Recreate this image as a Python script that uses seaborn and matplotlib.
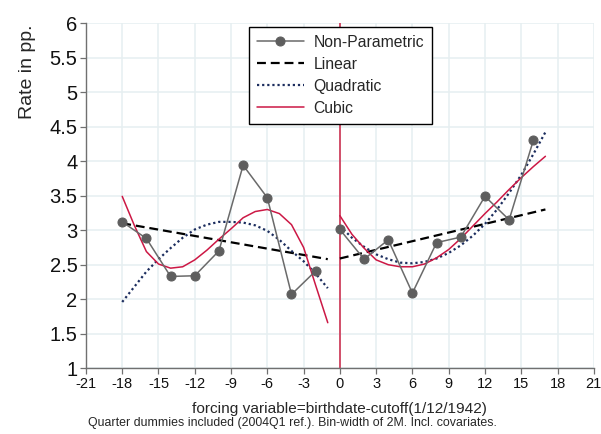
import numpy as np
import pandas as pd
import matplotlib
matplotlib.use("Agg")
import matplotlib.pyplot as plt
import seaborn as sns

# ---- data ----
np_x_left = [-18, -16, -14, -12, -10, -8, -6, -4, -2]
np_y_left = [3.12, 2.88, 2.33, 2.34, 2.70, 3.94, 3.47, 2.07, 2.41]
np_x_right = [0, 2, 4, 6, 8, 10, 12, 14, 16]
np_y_right = [3.01, 2.58, 2.86, 2.09, 2.82, 2.90, 3.49, 3.15, 4.30]

lin_x_left = [-18, -1]
lin_y_left = [3.10, 2.58]
lin_x_right = [0, 17]
lin_y_right = [2.59, 3.30]

fit_x_left = [-18, -17, -16, -15, -14, -13, -12, -11, -10, -9, -8, -7, -6, -5, -4, -3, -2, -1]
quad_y_left = [1.96, 2.18, 2.40, 2.58, 2.74, 2.89, 3.01, 3.08, 3.12, 3.12, 3.11, 3.07, 2.99, 2.86, 2.70, 2.55, 2.37, 2.16]
cub_y_left = [3.49, 3.07, 2.69, 2.51, 2.45, 2.47, 2.57, 2.71, 2.87, 3.02, 3.18, 3.27, 3.30, 3.24, 3.08, 2.75, 2.20, 1.66]

fit_x_right = [0, 1, 2, 3, 4, 5, 6, 7, 8, 9, 10, 11, 12, 13, 14, 15, 16, 17]
quad_y_right = [3.06, 2.89, 2.76, 2.65, 2.58, 2.53, 2.52, 2.54, 2.59, 2.67, 2.78, 2.92, 3.09, 3.30, 3.54, 3.80, 4.10, 4.42]
cub_y_right = [3.21, 2.94, 2.74, 2.57, 2.50, 2.47, 2.47, 2.51, 2.60, 2.72, 2.88, 3.06, 3.24, 3.41, 3.59, 3.76, 3.92, 4.07]

x_ticks = list(range(-21, 22, 3))
y_ticks = [1, 1.5, 2, 2.5, 3, 3.5, 4, 4.5, 5, 5.5, 6]
y_tick_labels = ["1", "1.5", "2", "2.5", "3", "3.5", "4", "4.5", "5", "5.5", "6"]

x_label = "forcing variable=birthdate-cutoff(1/12/1942)"
y_label = "Rate in pp."
note = "Quarter dummies included (2004Q1 ref.). Bin-width of 2M. Incl. covariates."
series_names = ["Non-Parametric", "Linear", "Quadratic", "Cubic"]

# ---- style ----
sns.set_theme(style="white")
plt.rcParams["font.family"] = ["Liberation Sans", "DejaVu Sans"]

fig = plt.figure(figsize=(6.01, 4.34), dpi=100)
ax = fig.add_axes([0.143, 0.1514, 0.845, 0.7956])

grid_c = "#e6eff1"
for xv in x_ticks:
    ax.axvline(xv, color=grid_c, lw=1.1, zorder=0)
for yv in y_ticks:
    ax.axhline(yv, color=grid_c, lw=1.1, zorder=0)

ax.axvline(0, color="#d0415f", lw=1.3, zorder=1)

gray_line = "#6a6a6a"
gray_mk = "#5e5e5e"
navy = "#1c2d5e"
crimson = "#cc1845"

def seg(x, y, **kw):
    df = pd.DataFrame({"x": x, "y": y})
    sns.lineplot(data=df, x="x", y="y", ax=ax, estimator=None, sort=False, **kw)

# Linear
seg(lin_x_left, lin_y_left, color="black", lw=1.6, label=series_names[1], zorder=3)
seg(lin_x_right, lin_y_right, color="black", lw=1.6, zorder=3)
# Quadratic
seg(fit_x_left, quad_y_left, color=navy, lw=1.6, label=series_names[2], zorder=3)
seg(fit_x_right, quad_y_right, color=navy, lw=1.6, zorder=3)
# Cubic
seg(fit_x_left, cub_y_left, color=crimson, lw=1.1, label=series_names[3], zorder=4)
seg(fit_x_right, cub_y_right, color=crimson, lw=1.1, zorder=4)
# Non-parametric
seg(np_x_left, np_y_left, color=gray_line, lw=1.1, marker="o", markersize=6.5,
    markerfacecolor=gray_mk, markeredgecolor=gray_mk, label=series_names[0], zorder=5)
seg(np_x_right, np_y_right, color=gray_line, lw=1.1, marker="o", markersize=6.5,
    markerfacecolor=gray_mk, markeredgecolor=gray_mk, zorder=5)

# dash styles
for ln in ax.get_lines():
    c = matplotlib.colors.to_hex(ln.get_color())
    if c == "#000000":
        ln.set_dashes((4, 2.2))
    elif c == navy:
        ln.set_dashes((1.0, 1.3))

ax.set_xlim(-21, 21)
ax.set_ylim(1, 6)
ax.set_xticks(x_ticks)
ax.set_xticklabels([str(v) for v in x_ticks], fontsize=10.5)
ax.set_yticks(y_ticks)
ax.set_yticklabels(y_tick_labels, fontsize=14.5)
ax.set_xlabel(x_label, fontsize=11.1, labelpad=8)
ax.set_ylabel(y_label, fontsize=14)
ax.yaxis.set_label_coords(-0.098, 0.859)

for s in ["top", "right"]:
    ax.spines[s].set_visible(False)
for s in ["left", "bottom"]:
    ax.spines[s].set_color("#707070")
    ax.spines[s].set_linewidth(1.0)
ax.tick_params(axis="both", direction="out", length=4, width=0.9, color="#707070",
               bottom=True, left=True, pad=2, labelcolor="#111111")

handles, labels = ax.get_legend_handles_labels()
order = [labels.index(n) for n in series_names]
leg = ax.legend([handles[i] for i in order], [labels[i] for i in order],
                loc="upper center", bbox_to_anchor=(0.501, 0.988), fontsize=11.3,
                frameon=True, fancybox=False, edgecolor="black", framealpha=1,
                handlelength=3.0, labelspacing=0.44, borderpad=0.5, handletextpad=0.6,
                borderaxespad=0)
leg.get_frame().set_linewidth(1.0)

fig.text(0.487, 0.025, note, ha="center", va="center", fontsize=8.9)

fig.savefig("out.png", dpi=100)
